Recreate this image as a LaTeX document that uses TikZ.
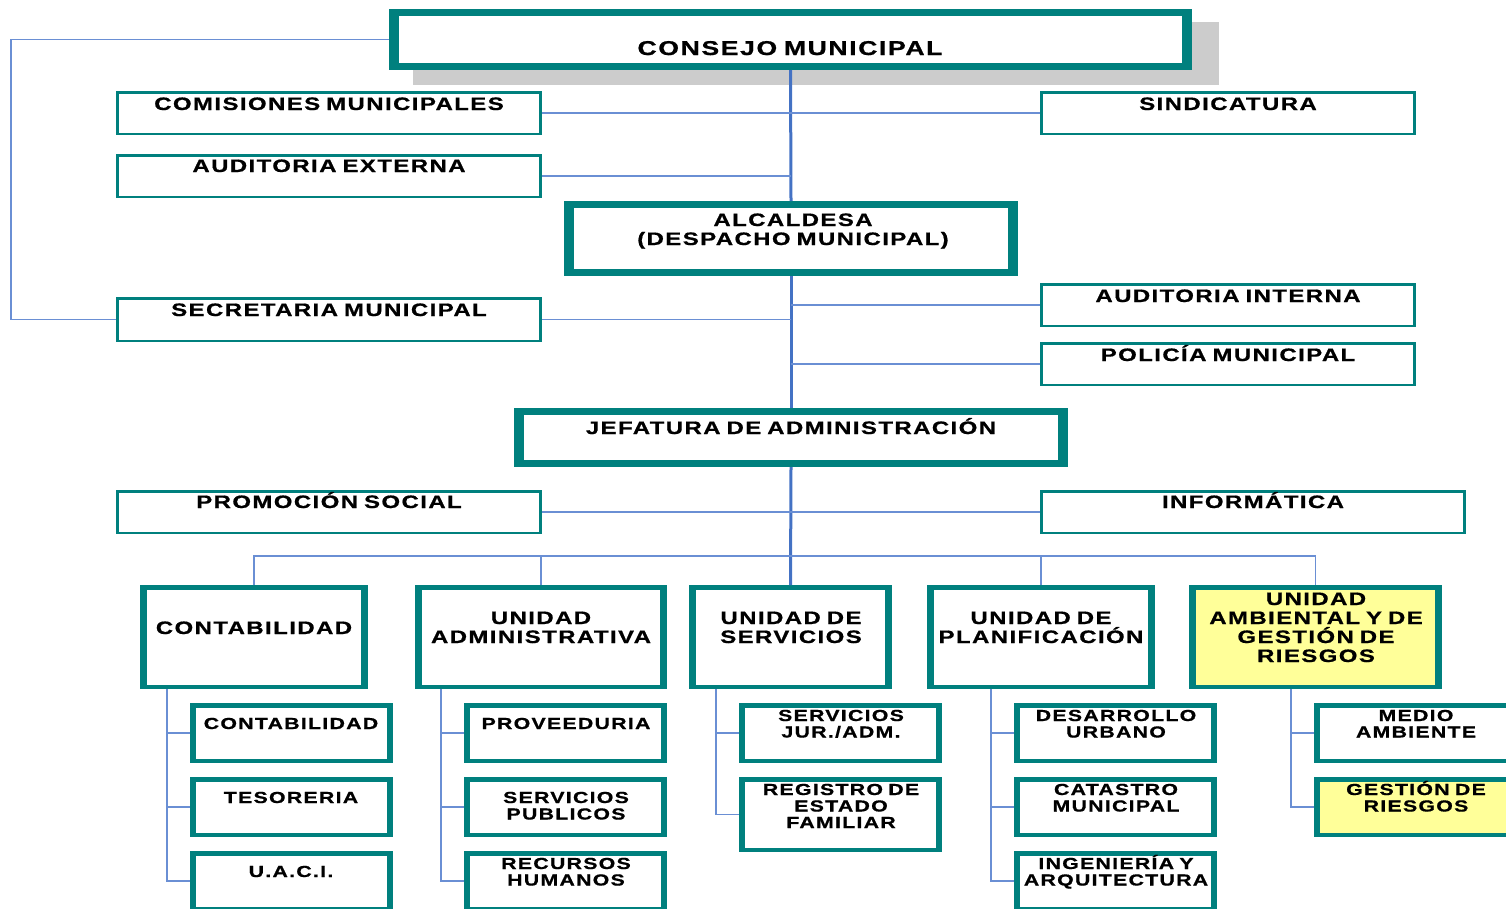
\documentclass[tikz,border=0pt]{standalone}
\usepackage{fontspec}
\newfontfamily\orgf{Liberation Sans Bold}[FakeStretch=1.33,LetterSpace=8,FakeBold=0.8,WordSpace=1.4]
\definecolor{orgteal}{RGB}{0,128,126}
\definecolor{spineblue}{RGB}{68,114,196}
\definecolor{branchblue}{RGB}{106,143,212}
\definecolor{shadowgray}{RGB}{204,204,204}
\definecolor{paleyellow}{RGB}{255,255,153}
\newcommand{\orgbox}[6]{\node[#6, minimum width={(#4-#2)*1pt}, minimum height={(#5-#3)*1pt}] (#1) at ({(#2+#4)/2},{(#3+#5)/2}) {};}
\begin{document}
\begin{tikzpicture}[x=1pt,y=-1pt,
  frame/.style n args={3}{fill=orgteal, draw=none, inner sep=0pt, outer sep=0pt,
    path picture={\fill[#3] ([xshift=#1,yshift=-#2]path picture bounding box.north west) rectangle ([xshift=-#1,yshift=#2]path picture bounding box.south east);}},
  heavy/.style={frame={10pt}{7pt}{white}},
  side/.style={frame={3pt}{2.5pt}{white}},
  unit/.style={frame={7pt}{4.5pt}{white}},
  unity/.style={frame={7pt}{4.5pt}{paleyellow}},
  sub/.style={frame={6pt}{4.5pt}{white}},
  suby/.style={frame={6pt}{4.5pt}{paleyellow}},
  txt/.style={anchor=base, inner sep=0pt, text width=560pt, align=center, text=black},
  big/.style={txt, font=\orgf\fontsize{18}{19}\selectfont},
  small/.style={txt, font=\orgf\fontsize{16}{16.5}\selectfont},
  spine/.style={draw=spineblue, line width=3pt},
  branch/.style={draw=branchblue, line width=1.5pt},
]
\useasboundingbox (0,0) rectangle (1506,908);
\clip (0,0) rectangle (1506,908);

% shadow of the top box
\fill[shadowgray] (413,22) rectangle (1219,85);

% boxes
\orgbox{cons}{389}{9}{1192}{70}{heavy}
\orgbox{com}{116}{91}{542}{135}{side}
\orgbox{sin}{1040}{91}{1416}{135}{side}
\orgbox{ae}{116}{154}{542}{198}{side}
\orgbox{alc}{564}{201}{1018}{276}{heavy}
\orgbox{sec}{116}{297}{542}{342}{side}
\orgbox{ai}{1040}{283}{1416}{327}{side}
\orgbox{pol}{1040}{342}{1416}{386}{side}
\orgbox{jef}{514}{408}{1068}{467}{heavy}
\orgbox{prom}{116}{490}{542}{534}{side}
\orgbox{inf}{1040}{490}{1466}{534}{side}
\orgbox{cont}{140}{585}{368}{689}{unit}
\orgbox{adm}{415}{585}{667}{689}{unit}
\orgbox{ser}{689}{585}{892}{689}{unit}
\orgbox{pla}{927}{585}{1155}{689}{unit}
\orgbox{amb}{1189}{585}{1442}{689}{unity}
\orgbox{c1}{190}{703}{393}{763}{sub}
\orgbox{c2}{190}{777}{393}{837}{sub}
\orgbox{c3}{190}{851}{393}{911}{sub}
\orgbox{a1}{464}{703}{667}{763}{sub}
\orgbox{a2}{464}{777}{667}{837}{sub}
\orgbox{a3}{464}{851}{667}{911}{sub}
\orgbox{s1}{739}{703}{942}{763}{sub}
\orgbox{s2}{739}{777}{942}{852}{sub}
\orgbox{p1}{1014}{703}{1217}{763}{sub}
\orgbox{p2}{1014}{777}{1217}{837}{sub}
\orgbox{p3}{1014}{851}{1217}{911}{sub}
\orgbox{m1}{1314}{703}{1517}{763}{sub}
\orgbox{m2}{1314}{777}{1517}{837}{suby}

% main spine
\draw[spine] (cons.south) -- (alc.north);
\draw[spine] (alc.south) -- (jef.north);
\draw[spine] (jef.south) -- (ser.north);

% upper branches
\draw[branch] (com.east) -- (sin.west);
\draw[branch] (ae.east) -- (ae.east -| alc.north);
\draw[branch] (sec.east) -- (sec.east -| alc.south);
\draw[branch] (ai.west) -- (ai.west -| alc.south);
\draw[branch] (pol.west) -- (pol.west -| alc.south);
\draw[branch] (cons.west) -- ++(-378,0) |- (sec.west);
\draw[branch] (prom.east) -- (inf.west);

% bus to units
\draw[branch] (cont.north) -- ++(0,-29) -| (amb.north);
\draw[branch] (adm.north) -- ++(0,-29);
\draw[branch] (pla.north) -- ++(0,-29);

% unit sub-spines
\coordinate (cx) at ([xshift=-23pt]c1.west);
\coordinate (ax) at ([xshift=-23pt]a1.west);
\coordinate (sx) at ([xshift=-23pt]s1.west);
\coordinate (px) at ([xshift=-23pt]p1.west);
\coordinate (mx) at ([xshift=-23pt]m1.west);
\draw[branch] (cont.south -| cx) |- (c3.west);
\draw[branch] (cx) -- (c1.west);
\draw[branch] (c2.west -| cx) -- (c2.west);
\draw[branch] (adm.south -| ax) |- (a3.west);
\draw[branch] (ax) -- (a1.west);
\draw[branch] (a2.west -| ax) -- (a2.west);
\draw[branch] (ser.south -| sx) |- (s2.west);
\draw[branch] (sx) -- (s1.west);
\draw[branch] (pla.south -| px) |- (p3.west);
\draw[branch] (px) -- (p1.west);
\draw[branch] (p2.west -| px) -- (p2.west);
\draw[branch] (amb.south -| mx) |- (m2.west);
\draw[branch] (mx) -- (m1.west);

% texts
\node[txt, font=\orgf\fontsize{20}{21}\selectfont] (cons-t) at (790,55) {CONSEJO MUNICIPAL};
\node[big] (com-t) at (329,110) {COMISIONES MUNICIPALES};
\node[big] (sin-t) at (1228,110) {SINDICATURA};
\node[big] (ae-t) at (329,172) {AUDITORIA EXTERNA};
\node[big] (alc-t) at (793,226) {ALCALDESA\\(DESPACHO MUNICIPAL)};
\node[big] (sec-t) at (329,316) {SECRETARIA MUNICIPAL};
\node[big] (ai-t) at (1228,302) {AUDITORIA INTERNA};
\node[big] (pol-t) at (1228,361) {POLICÍA MUNICIPAL};
\node[big] (jef-t) at (791,434) {JEFATURA DE ADMINISTRACIÓN};
\node[big] (prom-t) at (329,508) {PROMOCIÓN SOCIAL};
\node[big] (inf-t) at (1253,508) {INFORMÁTICA};
\node[big] (cont-t) at (254,634) {CONTABILIDAD};
\node[big] (adm-t) at (541,624) {UNIDAD\\ADMINISTRATIVA};
\node[big] (ser-t) at (791,624) {UNIDAD DE\\SERVICIOS};
\node[big] (pla-t) at (1041,624) {UNIDAD DE\\PLANIFICACIÓN};
\node[big] (amb-t) at (1316,605) {UNIDAD\\AMBIENTAL Y DE\\GESTIÓN DE\\RIESGOS};
\node[small] (c1-t) at (291,729) {CONTABILIDAD};
\node[small] (c2-t) at (291,803) {TESORERIA};
\node[small] (c3-t) at (291,877) {U.A.C.I.};
\node[small] (a1-t) at (566,729) {PROVEEDURIA};
\node[small] (a2-t) at (566,803) {SERVICIOS\\PUBLICOS};
\node[small] (a3-t) at (566,869) {RECURSOS\\HUMANOS};
\node[small] (s1-t) at (841,721) {SERVICIOS\\JUR./ADM.};
\node[small] (s2-t) at (841,795) {REGISTRO DE\\ESTADO\\FAMILIAR};
\node[small] (p1-t) at (1116,721) {DESARROLLO\\URBANO};
\node[small] (p2-t) at (1116,795) {CATASTRO\\MUNICIPAL};
\node[small] (p3-t) at (1116,869) {INGENIERÍA Y\\ARQUITECTURA};
\node[small] (m1-t) at (1416,721) {MEDIO\\AMBIENTE};
\node[small] (m2-t) at (1416,795) {GESTIÓN DE\\RIESGOS};
\end{tikzpicture}
\end{document}
